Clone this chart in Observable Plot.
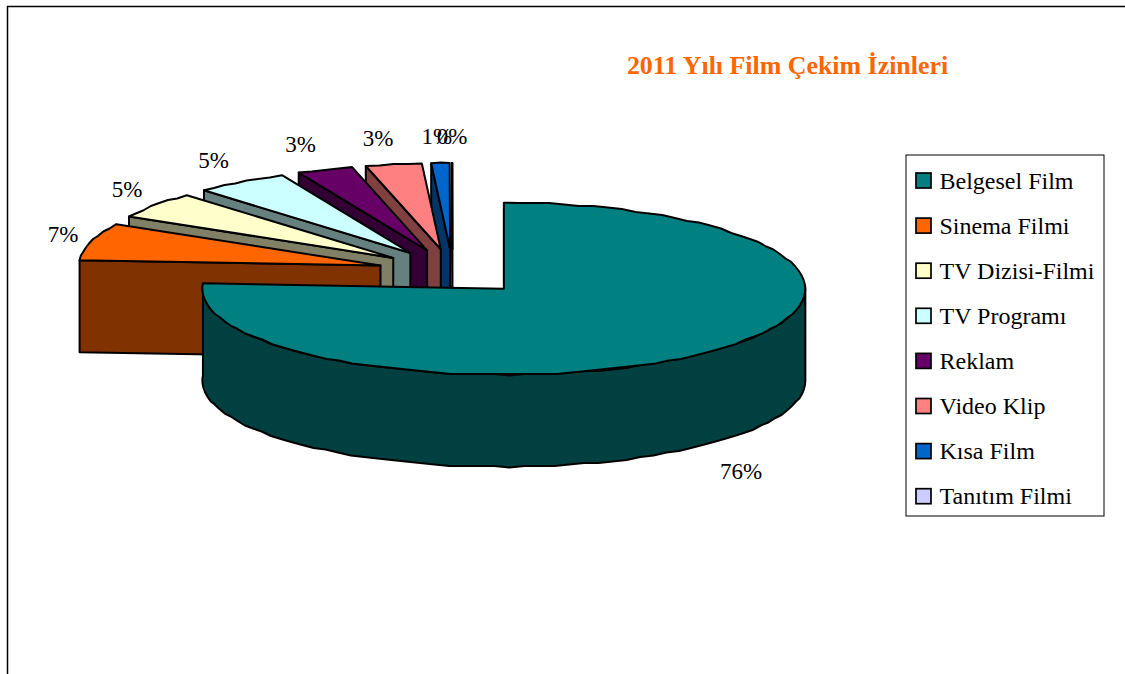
<!DOCTYPE html>
<html lang="tr">
<head>
<meta charset="utf-8">
<style>html,body{margin:0;padding:0;background:#fff;overflow:hidden}svg{display:block}</style>
<script src="https://cdn.jsdelivr.net/npm/d3@7"></script>
<script src="https://cdn.jsdelivr.net/npm/@observablehq/plot@0.6"></script>
</head>
<body>
<script>
const titleText = "2011 Yılı Film Çekim İzinleri";
const categories = ["Belgesel Film","Sinema Filmi","TV Dizisi-Filmi","TV Programı","Reklam","Video Klip","Kısa Film","Tanıtım Filmi"];
const shares = [76, 7, 5, 5, 3, 3, 0.98, 0.02];
const topColors = ["#008080","#FF6600","#FFFFCC","#CCFFFF","#660066","#FF8080","#0066CC","#CCCCFF"];
const wallColors = ["#004040","#803300","#808066","#668080","#330033","#804040","#003366","#666680"];

// pie geometry
const W = 1125, H = 674;
const cx = 452, cy = 271.5, explodeX = 75, explodeY = 23;
const rx = 301.5, ry = 86, depth = 92;
const serif = "'Liberation Serif','Times New Roman',serif";

const rad = d => d * 2 * Math.PI / 100;           // share -> radians, clockwise from top
let acc = 0;
const slices = shares.map((v, i) => {
  const a0 = rad(acc); acc += v; const a1 = rad(acc); const mid = (a0 + a1) / 2;
  return {i, a0, a1, mid, ax: cx + explodeX * Math.sin(mid), ay: cy - explodeY * Math.cos(mid)};
});
const rim = (s, a) => [s.ax + rx * Math.sin(a), s.ay - ry * Math.cos(a)];
// the rim is drawn as a coarse polyline snapped to a small vertical step
const arc = (s, a0, a1) => {
  const n = Math.max(1, Math.ceil(Math.abs(a1 - a0) / rad(0.8)));
  return d3.range(n + 1).map(k => {
    const p = rim(s, a0 + (a1 - a0) * k / n);
    return (k === 0 || k === n) ? p : [p[0], Math.round(p[1] / 1.5) * 1.5];
  });
};

const polys = [];
const add = (key, fill, pts) => pts.forEach(p => polys.push({key, fill, px: p[0], py: p[1]}));
slices.slice(1).reverse().forEach(s => {
  const p = rim(s, s.a0);
  add("w" + s.i, wallColors[s.i], [p, [s.ax, s.ay], [s.ax, s.ay + depth], [p[0], p[1] + depth]]);
  add("t" + s.i, topColors[s.i], [[s.ax, s.ay], ...arc(s, s.a0, s.a1)]);
});
const m = slices[0];
const front = arc(m, Math.PI / 2, m.a1);
add("w0", wallColors[0], [...front, ...front.slice().reverse().map(p => [p[0], p[1] + depth])]);
add("t0", topColors[0], [[m.ax, m.ay], ...arc(m, m.a0, m.a1)]);

const labels = slices.map(s => {
  const sn = Math.sin(s.mid), cs = Math.cos(s.mid);
  const p = rim(s, s.mid);
  const isFront = cs < 0;
  return {
    text: Math.round(shares[s.i]) + "%",
    lx: p[0] + 28 * Math.tanh(4 * sn) + (isFront ? 3 : 0),
    ly: p[1] + (isFront ? depth + 28 : -26 * cs)
  };
});

const legendRows = categories.map((c, i) => ({c, i, color: topColors[i]}));
const legendY = i => 180.5 + i * 45.1;

const chart = Plot.plot({
  width: W, height: H,
  margin: 0,
  x: {domain: [0, W], range: [0, W], axis: null},
  y: {domain: [0, H], range: [0, H], axis: null},
  color: {type: "identity"},
  style: {background: "#fff", fontFamily: serif},
  marks: [
    Plot.ruleX([7], {y1: 6, y2: H, stroke: "#000", strokeWidth: 1.5}),
    Plot.ruleY([6], {x1: 7, x2: W, stroke: "#000", strokeWidth: 1.5}),
    Plot.line(polys, {x: "px", y: "py", z: "key", fill: "fill", stroke: "#000", strokeWidth: 2, curve: "linear-closed", strokeLinejoin: "round"}),
    Plot.text(labels, {x: "lx", y: "ly", text: "text", fontSize: 23, fill: "#000", fontFamily: serif}),
    Plot.text([titleText], {x: () => 787, y: () => 65, fontSize: 25.9, fontWeight: "bold", fill: "#FF6600", fontFamily: serif}),
    Plot.rect([0], {x1: () => 906, x2: () => 1104, y1: () => 155, y2: () => 516, fill: "#fff", stroke: "#000", strokeWidth: 1}),
    Plot.rect(legendRows, {x1: () => 916, x2: () => 931, y1: d => legendY(d.i) - 7.5, y2: d => legendY(d.i) + 7.5, fill: "color", stroke: "#000", strokeWidth: 1.7}),
    Plot.text(legendRows, {x: () => 939, y: d => legendY(d.i), text: "c", textAnchor: "start", fontSize: 24, fill: "#000", fontFamily: serif})
  ]
});
document.body.appendChild(chart);
</script>
</body>
</html>
